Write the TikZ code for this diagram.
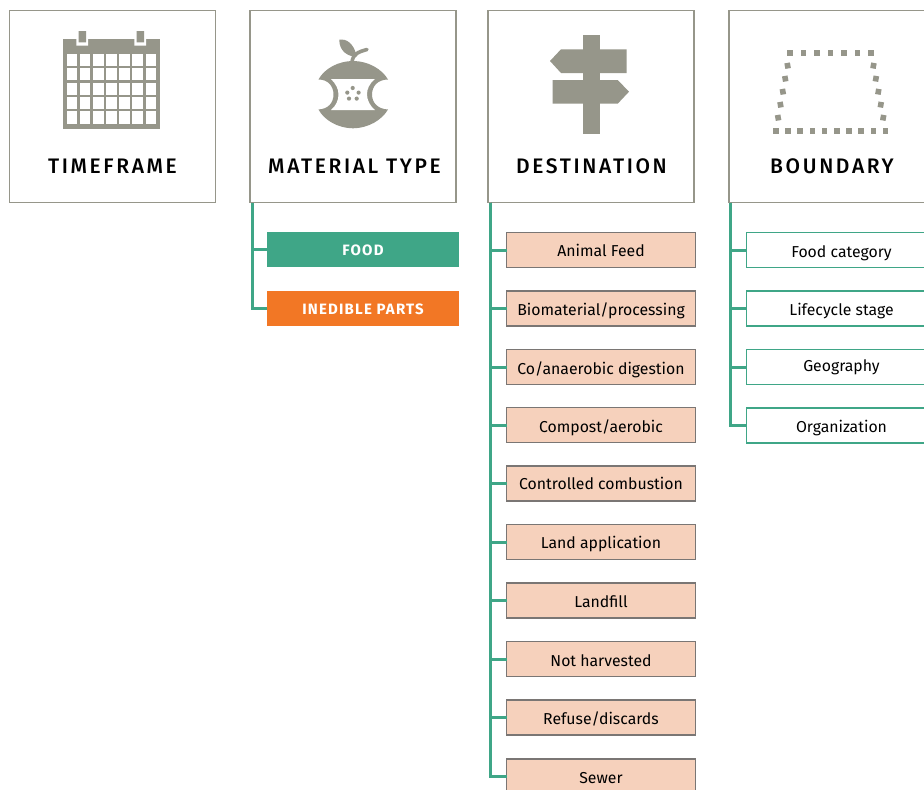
\documentclass[tikz,border=0pt]{standalone}
\usepackage{fontspec}
\setmainfont{Fira Sans}
\newfontfamily\hdrfont[LetterSpace=12.5]{Fira Sans Medium}
\newfontfamily\tagfont[LetterSpace=8]{Fira Sans Bold}
\definecolor{stone}{HTML}{96968A}
\definecolor{teal}{HTML}{3FA687}
\definecolor{orng}{HTML}{F27725}
\definecolor{peach}{HTML}{F6D1BC}
\definecolor{peachline}{HTML}{7A7674}
\tikzset{
  hdr/.style={draw=stone,line width=1.7pt,fill=white,minimum width=206pt,minimum height=192pt,anchor=north west,inner sep=0pt,outer sep=0pt},
  hdrtext/.style={font=\hdrfont\fontsize{21}{24}\selectfont,text=black,anchor=base,inner sep=0pt},
  conn/.style={draw=teal,line width=3pt},
  solidbox/.style={minimum width=192pt,minimum height=35pt,anchor=north west,inner sep=0pt,outer sep=0pt,text=white,text height=12.5pt,text depth=0pt,font=\tagfont\fontsize{15}{17}\selectfont},
  destbox/.style={draw=peachline,line width=1.9pt,fill=peach,minimum width=189pt,minimum height=35pt,anchor=north west,inner sep=0pt,outer sep=0pt,text=black,text height=14pt,text depth=0pt,font=\fontsize{15.8}{18}\selectfont},
  bndbox/.style={draw=teal,line width=1.9pt,fill=white,minimum width=190pt,minimum height=35pt,anchor=north west,inner sep=0pt,outer sep=0pt,text=black,text height=14pt,text depth=0pt,font=\fontsize{15.8}{18}\selectfont},
}
\begin{document}
\begin{tikzpicture}[x=1pt,y=-1pt]
\useasboundingbox (0,0) rectangle (924,790);
\clip (0,0) rectangle (924,790);
\fill[white] (0,0) rectangle (924,790);
% headers
\node[hdr] (timeframe) at (9.5,10.5) {};
\node[hdr] (material) at (250,10.5) {};
\node[hdr] (destination) at (488,10.5) {};
\node[hdr] (boundary) at (729,10.5) {};
\node[hdrtext] (t1) at (112.5,173) {TIMEFRAME};
\node[hdrtext] (t2) at (354.5,173) {MATERIAL TYPE};
\node[hdrtext] (t3) at (591.5,173) {DESTINATION};
\node[hdrtext] (t4) at (832,173) {BOUNDARY};
% calendar icon
\fill[stone] (63,39.3) rectangle (159.5,128.7);
\fill[white] (76.3,36) rectangle (88,45.7) (134.3,36) rectangle (146,45.7);
\fill[stone] (78.7,31) rectangle (86,42.3) (136.7,31) rectangle (144,42.3);
\foreach \c in {0,...,6}\foreach \r in {0,...,4}
  \fill[white] ({67.1+\c*13.07},{53.8+\r*14.4}) rectangle +(10.3,12.2);
% apple icon
\fill[stone] (318.5,79.5) .. controls (324,69) and (338,61) .. (353,61) .. controls (368,61) and (382,69) .. (388,79.5)
  .. controls (378,79.5) and (372,86) .. (372,94.5) .. controls (372,103) and (378,109) .. (388,109.5)
  .. controls (382,120) and (368,128.3) .. (353,128.3) .. controls (338,128.3) and (324,120) .. (318.5,109.5)
  .. controls (328,109) and (333.5,103) .. (333.5,94.5) .. controls (333.5,86) and (328,79.5) .. (318.5,79.5) -- cycle;
\fill[white] (331,79) -- (375,79) .. controls (369,84) and (367,89) .. (367,94.5) .. controls (367,100) and (370,106) .. (375,110)
  -- (331,110) .. controls (336,106) and (338.5,100) .. (338.5,94.5) .. controls (338.5,89) and (336,84) .. (331,79) -- cycle;
\foreach \p in {(352.7,88),(347.3,92.6),(358.6,92.6),(349,98.6),(356.7,98.6)}
  \fill[stone] \p circle (2.1);
\draw[stone,line width=3.6pt,line cap=round] (352,62) .. controls (353,54) and (358,52) .. (367,49.5);
\fill[stone] (339.3,39.5) .. controls (346,38.5) and (354,43) .. (356.7,56.5) .. controls (348,57) and (339,51) .. (339.3,39.5) -- cycle;
% signpost icon
\fill[stone] (583,35) rectangle (600,134);
\fill[stone] (550,61) -- (561,49.3) -- (626.7,49.3) -- (626.7,73) -- (561,73) -- cycle;
\fill[stone] (552.7,80) -- (617.7,80) -- (629,91.7) -- (617.7,103.7) -- (552.7,103.7) -- cycle;
% boundary icon
\foreach \i in {0,...,6}
  \fill[stone,shift={({790+\i*13.5},52.7)}] (-2.8,-2.8) rectangle (2.8,2.8);
\foreach \i in {0,...,9}
  \fill[stone,shift={({775.7+\i*12.2},130.7)}] (-2.8,-2.8) rectangle (2.8,2.8);
\foreach \i in {1,...,5}{
  \fill[stone,shift={({790-\i*14.3/6},{52.7+\i*13})},rotate=10] (-2.8,-2.8) rectangle (2.8,2.8);
  \fill[stone,shift={({871+\i*14.7/6},{52.7+\i*13})},rotate=-10] (-2.8,-2.8) rectangle (2.8,2.8);
}
% material items
\node[solidbox,fill=teal] (food) at (267,232) {FOOD};
\node[solidbox,fill=orng] (inedible) at (267,291) {INEDIBLE PARTS};
% destination items
\node[destbox,text height=12pt] (d1) at (506.5,232.5) {Animal Feed};
\node[destbox] (d2) at (506.5,291) {Biomaterial/processing};
\node[destbox] (d3) at (506.5,349.5) {Co/anaerobic digestion};
\node[destbox] (d4) at (506.5,407.5) {Compost/aerobic};
\node[destbox,text height=12.5pt] (d5) at (506.5,466) {Controlled combustion};
\node[destbox,text height=12pt] (d6) at (506.5,524.5) {Land application};
\node[destbox] (d7) at (506.5,583) {Landfill};
\node[destbox] (d8) at (506.5,641.5) {Not harvested};
\node[destbox] (d9) at (506.5,700) {Refuse/discards};
\node[destbox,text height=13pt] (d10) at (506.5,759) {Sewer};
% boundary items
\node[bndbox] (b1) at (746.5,232.5) {Food category};
\node[bndbox] (b2) at (746.5,291) {Lifecycle stage};
\node[bndbox,text height=8pt] (b3) at (746.5,349.5) {Geography};
\node[bndbox] (b4) at (746.5,408) {Organization};
% connectors
\foreach \n in {food,inedible}
  \draw[conn] ([xshift=2pt]material.south west) |- (\n.west);
\foreach \n in {d1,d2,d3,d4,d5,d6,d7,d8,d9,d10}
  \draw[conn] ([xshift=2pt]destination.south west) |- (\n.west);
\foreach \n in {b1,b2,b3,b4}
  \draw[conn] ([xshift=1.5pt]boundary.south west) |- (\n.west);
\end{tikzpicture}
\end{document}
